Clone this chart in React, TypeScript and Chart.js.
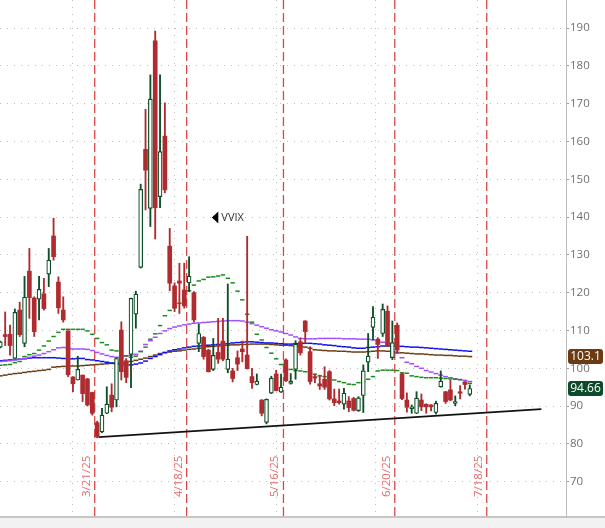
import React, { useEffect, useRef } from "react";
import { Chart, registerables } from "chart.js";
Chart.register(...registerables);

// ---- data (index = trading-day number, 0 = first visible bar) ----
const opens = [105.6,108.9,109.0,102.6,115.4,106.6,125.7,118.6,118.3,119.7,124.9,135.0,122.8,115.4,109.9,97.7,96.9,98.2,97.2,93.6,85.6,83.2,88.1,92.9,91.6,110.1,102.0,103.7,114.3,126.7,157.9,142.3,186.6,145.4,161.4,132.3,121.8,123.1,120.7,122.6,120.0,106.6,108.2,104.8,99.7,104.2,107.2,99.7,99.3,102.8,105.1,103.5,97.8,95.7,91.6,85.7,93.4,98.5,93.7,102.2,96.0,99.7,107.0,112.5,104.4,97.8,95.9,97.1,99.1,91.9,91.35,90.5,91.35,92.0,88.8,92.8,101.6,110.8,107.7,109.2,115.1,102.8,111.4,98.5,91.6,89.3,88.1,91.6,90.5,90.3,88.3,95.1,93.8,94.3,90.7,93.8,96.4,93.1];
const highs = [107.2,114.9,111.4,115.7,117.5,124.3,131.7,118.9,124.3,123.8,131.7,139.7,124.2,118.9,109.9,97.8,103.2,98.2,97.3,93.7,86.0,89.4,95.1,95.9,102.8,112.3,102.6,118.6,120.4,148.7,168.5,177.6,189.2,177.6,170.2,137.0,122.6,127.8,127.8,129.5,120.3,111.7,108.4,105.0,107.9,113.2,113.2,122.3,100.0,104.6,107.2,134.9,100.0,98.5,91.7,91.9,97.9,99.5,98.5,102.5,98.6,107.3,108.0,112.6,105.7,98.5,98.2,100.4,99.4,94.5,94.5,94.7,92.5,92.3,92.5,100.9,109.2,116.3,108.1,117.0,116.5,112.5,112.0,98.8,93.5,90.3,93.8,93.2,90.6,90.4,91.3,99.3,93.9,96.9,92.7,95.4,96.5,95.6];
const lows = [105.4,106.0,103.5,102.6,108.4,105.7,113.2,108.4,112.8,115.4,121.6,128.6,114.5,112.2,97.8,93.8,96.9,91.2,90.0,87.6,81.6,83.0,88.0,88.5,89.8,96.9,96.2,94.9,110.6,126.5,141.9,137.5,134.2,142.5,146.4,120.5,115.0,114.5,115.9,120.3,112.2,104.4,102.4,99.0,99.4,101.3,102.0,98.8,96.4,99.4,101.7,99.8,94.7,95.6,87.4,85.3,93.3,94.0,93.6,96.5,95.8,97.1,103.5,106.6,95.8,96.2,94.4,94.4,91.6,90.1,90.5,89.2,88.5,88.7,88.6,88.3,99.1,107.5,102.6,108.4,105.7,102.3,104.0,91.7,88.4,88.1,88.0,88.8,88.1,88.7,87.9,95.0,90.7,91.4,90.1,91.9,94.5,92.7];
const closes = [107.0,108.4,106.0,114.8,108.9,118.8,118.7,109.7,120.9,115.8,128.6,129.5,116.0,112.8,98.3,95.9,99.7,93.3,90.3,88.1,81.9,87.6,90.5,89.7,102.6,99.1,97.6,118.5,119.6,147.3,152.4,171.2,142.5,157.3,147.2,122.5,115.9,122.5,116.5,124.4,112.8,109.2,103.1,99.1,103.4,102.4,102.4,102.4,97.3,101.1,104.4,99.9,96.2,96.6,88.1,91.8,97.4,94.1,95.0,96.7,96.6,106.4,104.1,109.7,96.5,97.4,95.3,95.0,91.9,90.9,90.9,93.4,89.6,88.9,92.2,99.3,103.2,113.5,106.3,115.6,105.9,106.8,104.8,92.0,89.7,89.8,92.1,89.8,89.8,89.8,90.7,96.6,91.2,91.6,91.2,93.4,95.7,94.66];

const maGreen = [100.8,100.9,101.0,101.5,101.8,103.1,103.6,103.9,104.8,105.9,107.2,108.4,109.5,110.3,110.3,110.3,110.3,110.3,109.9,109.0,107.9,106.8,106.2,104.8,104.6,103.5,103.3,102.9,103.2,104.4,105.6,107.7,109.1,111.3,113.9,115.3,116.1,117.2,118.5,120.5,122.0,123.1,123.5,124.1,124.2,124.4,124.7,123.8,122.6,120.4,118.1,114.3,112.2,109.0,107.5,105.5,104.0,102.5,101.0,100.0,99.7,99.4,99.3,99.1,98.8,98.4,98.0,97.8,97.4,96.9,96.5,96.2,95.8,95.7,96.2,96.5,97.1,97.8,99.3,99.5,99.5,99.5,99.4,98.8,98.7,98.0,97.8,97.6,97.5,97.5,97.5,97.4,97.3,97.2,97.1,97.0,96.2,96.0];
const maPurple = [101.8,101.9,102.0,102.2,102.4,102.6,102.9,103.2,103.5,103.9,104.4,104.9,105.4,105.5,105.3,105.1,105.1,105.1,105.0,104.7,104.2,103.8,103.4,103.1,102.9,103.0,103.2,103.4,103.7,104.5,106.3,107.3,108.2,109.2,109.9,110.5,110.9,111.2,111.5,111.7,111.9,112.0,112.1,112.2,112.3,112.4,112.5,112.6,112.6,112.6,112.5,112.2,111.8,111.4,111.0,110.6,110.2,109.9,109.6,109.2,108.8,108.3,107.9,107.8,107.8,107.8,107.9,107.9,107.9,107.9,107.9,107.8,107.8,107.8,107.7,107.7,107.7,107.5,107.2,106.9,106.5,105.0,104.0,102.8,101.6,101.2,100.5,100.0,99.4,99.0,98.6,98.2,97.8,97.5,97.2,97.0,96.8,96.5];
const maBlue = [102.0,102.1,102.2,102.3,102.4,102.5,102.7,102.8,102.8,102.8,102.8,102.8,102.7,102.6,102.5,102.5,102.6,102.6,102.3,102.2,102.0,101.8,101.6,101.4,101.2,101.0,100.9,100.9,101.1,101.4,101.9,102.6,103.1,103.6,104.2,104.6,104.9,105.1,105.4,105.6,105.8,105.9,106.0,106.1,106.2,106.3,106.4,106.5,106.7,106.8,106.9,107.0,107.0,106.9,106.8,106.7,106.7,106.6,106.5,106.4,106.4,106.5,106.6,106.6,106.6,106.5,106.4,106.2,106.1,106.0,105.8,105.7,105.6,105.4,105.3,105.3,105.5,105.6,105.7,105.9,105.9,105.9,105.8,105.8,105.7,105.6,105.6,105.5,105.4,105.3,105.2,105.1,105.0,104.9,104.8,104.7,104.6,104.5];
const maBrown = [98.0,98.2,98.4,98.6,98.7,98.9,99.1,99.2,99.4,99.5,99.7,100.3,100.4,100.5,100.5,100.6,100.6,100.7,100.8,100.9,101.0,101.1,101.2,101.3,101.3,101.4,101.6,101.8,102.1,102.4,102.7,103.1,103.5,103.9,104.1,104.3,104.5,104.6,104.8,105.0,105.1,105.3,105.5,105.7,105.8,105.9,106.0,106.1,106.2,106.2,106.3,106.3,106.4,106.4,106.4,106.4,106.3,106.2,106.1,106.1,106.0,105.9,105.8,105.6,105.3,104.9,104.8,104.7,104.6,104.6,104.5,104.5,104.4,104.3,104.3,104.3,104.4,104.5,104.6,104.6,104.5,104.4,104.2,104.1,104.0,103.9,103.8,103.8,103.7,103.6,103.5,103.5,103.4,103.4,103.3,103.2,103.2,103.1];

const yTicks = [70, 80, 90, 100, 110, 120, 130, 140, 150, 160, 170, 180, 190];
const monthStartIdx = [5, 26, 47, 68, 88, 110];
const opexIdx = [19, 38, 58, 81, 100];
const opexLabels = ["3/21/25", "4/18/25", "5/16/25", "6/20/25", "7/18/25"];
const trendIdx = [20.3, 111.8];
const trendVal = [81.8, 89.2];
const seriesName = "VVIX";

const X_MIN = -0.07;
const X_MAX = 116.88;
const Y_MIN = 60.93;
const Y_MAX = 197.41;

const RED = "#b02b2f";
const GREEN = "#0c4f26";
const FONT = "'Open Sans', 'Noto Sans', sans-serif";

function roundRect(ctx: CanvasRenderingContext2D, x: number, y: number, w: number, h: number, r: number) {
  ctx.beginPath();
  ctx.moveTo(x + r, y);
  ctx.lineTo(x + w - r, y);
  ctx.quadraticCurveTo(x + w, y, x + w, y + r);
  ctx.lineTo(x + w, y + h - r);
  ctx.quadraticCurveTo(x + w, y + h, x + w - r, y + h);
  ctx.lineTo(x + r, y + h);
  ctx.quadraticCurveTo(x, y + h, x, y + h - r);
  ctx.lineTo(x, y + r);
  ctx.quadraticCurveTo(x, y, x + r, y);
  ctx.closePath();
}

const overlayPlugin = {
  id: "overlay",
  beforeDatasetsDraw(chart: any) {
    const { ctx, chartArea, scales } = chart;
    const x = scales.x;
    ctx.save();
    ctx.strokeStyle = "rgba(212,52,52,0.9)";
    ctx.lineWidth = 1.3;
    ctx.setLineDash([9, 4]);
    opexIdx.forEach((d) => {
      const px = x.getPixelForValue(d + 0.5);
      ctx.beginPath();
      ctx.moveTo(px, chartArea.top);
      ctx.lineTo(px, chartArea.bottom);
      ctx.stroke();
    });
    ctx.restore();
  },
  afterDraw(chart: any) {
    const { ctx, chartArea, scales } = chart;
    const x = scales.x;
    const y = scales.y;
    ctx.save();
    // opex date labels (rotated)
    ctx.fillStyle = "#e46a6a";
    ctx.font = `11.5px ${FONT}`;
    opexIdx.forEach((d, i) => {
      const px = x.getPixelForValue(d + 0.5);
      ctx.save();
      ctx.translate(px - 2.5, 497);
      ctx.rotate(-Math.PI / 2);
      ctx.textAlign = "left";
      ctx.textBaseline = "bottom";
      ctx.fillText(opexLabels[i], 0, 0);
      ctx.restore();
    });

    // series name marker
    const mx = x.getPixelForValue(43.7);
    const my = y.getPixelForValue(139.9);
    ctx.fillStyle = "#000";
    ctx.beginPath();
    ctx.moveTo(mx, my);
    ctx.lineTo(mx + 6.5, my - 6);
    ctx.lineTo(mx + 6.5, my + 6);
    ctx.closePath();
    ctx.fill();
    ctx.fillStyle = "#333";
    ctx.font = `11px ${FONT}`;
    ctx.textAlign = "left";
    ctx.textBaseline = "middle";
    ctx.fillText(seriesName, mx + 9.5, my + 0.5);

    // value badges on the right axis
    const badges = [
      { v: maBrown[maBrown.length - 1], t: maBrown[maBrown.length - 1].toFixed(1), c: "#6b3a10" },
      { v: closes[closes.length - 1], t: closes[closes.length - 1].toFixed(2), c: "#0b4a2b" },
    ];
    badges.forEach((b) => {
      const by = y.getPixelForValue(b.v);
      roundRect(ctx, chartArea.right + 2, by - 7.5, 35, 15, 3);
      ctx.fillStyle = b.c;
      ctx.fill();
      ctx.fillStyle = "#ffffff";
      ctx.font = `12px ${FONT}`;
      ctx.textAlign = "center";
      ctx.textBaseline = "middle";
      ctx.fillText(b.t, chartArea.right + 19.5, by + 0.5);
    });

    // bottom strip
    const w = chart.width;
    ctx.fillStyle = "#f2f2f2";
    ctx.fillRect(0, chartArea.bottom + 1, w, chart.height - chartArea.bottom);
    ctx.strokeStyle = "#c6c6c6";
    ctx.lineWidth = 2;
    ctx.beginPath();
    ctx.moveTo(0, chartArea.bottom + 1);
    ctx.lineTo(w, chartArea.bottom + 1);
    ctx.stroke();
    ctx.restore();
  },
};

export default function App() {
  const ref = useRef<HTMLCanvasElement | null>(null);
  useEffect(() => {
    if (!ref.current) return;
    const idx = opens.map((_, i) => i);
    const up = idx.filter((i) => closes[i] >= opens[i]);
    const down = idx.filter((i) => closes[i] < opens[i]);
    const maSet = (data: number[], color: string, r: number, w: number, order: number) => ({
      type: "line" as const,
      data: data.map((v, i) => ({ x: i, y: v })),
      showLine: false,
      pointStyle: "line",
      pointRadius: r,
      pointHoverRadius: r,
      pointBorderWidth: w,
      pointBorderColor: color,
      pointBackgroundColor: color,
      order,
    });
    const chart = new Chart(ref.current, {
      type: "bar",
      data: {
        datasets: [
          {
            type: "bar",
            data: down.map((i) => ({ x: i, y: [closes[i], opens[i]] })),
            backgroundColor: RED,
            borderWidth: 0,
            barThickness: 4,
            minBarLength: 1,
            grouped: false,
            order: 1,
          },
          {
            type: "bar",
            data: up.map((i) => ({ x: i, y: [opens[i], closes[i]] })),
            backgroundColor: "#ffffff",
            borderColor: GREEN,
            borderWidth: 1.2,
            borderSkipped: false,
            barThickness: 4,
            minBarLength: 1,
            grouped: false,
            order: 1,
          },
          {
            type: "bar",
            data: down.map((i) => ({ x: i, y: [lows[i], highs[i]] })),
            backgroundColor: RED,
            borderWidth: 0,
            barThickness: 1.2,
            grouped: false,
            order: 2,
          },
          {
            type: "bar",
            data: up.map((i) => ({ x: i, y: [lows[i], highs[i]] })),
            backgroundColor: GREEN,
            borderWidth: 0,
            barThickness: 1.2,
            grouped: false,
            order: 2,
          },
          {
            type: "line",
            data: trendIdx.map((v, i) => ({ x: v, y: trendVal[i] })),
            borderColor: "#111111",
            borderWidth: 1.6,
            pointRadius: 0,
            order: 3,
          },
          maSet(maGreen, "#1d8a1d", 2.2, 1.5, 4),
          maSet(maPurple, "#a24cff", 2.45, 1.5, 4),
          maSet(maBlue, "#0f0fe8", 2.45, 1.5, 4),
          maSet(maBrown, "#6b3a10", 2.45, 1.5, 4),
        ] as any,
      },
      plugins: [overlayPlugin],
      options: {
        animation: false,
        responsive: false,
        devicePixelRatio: 1,
        layout: { padding: 0, autoPadding: false },
        plugins: { legend: { display: false }, tooltip: { enabled: false } },
        events: [],
        scales: {
          x: {
            type: "linear",
            min: X_MIN,
            max: X_MAX,
            offset: false,
            afterBuildTicks: (s: any) => {
              s.ticks = monthStartIdx.map((v) => ({ value: v - 0.5 }));
            },
            afterFit: (s: any) => {
              s.height = 12;
              s.paddingLeft = 0;
              s.paddingRight = 0;
            },
            ticks: { display: false },
            grid: { color: "#bdbdbd", lineWidth: 1, drawTicks: false },
            border: { display: false, dash: [1, 6] },
          },
          y: {
            type: "linear",
            position: "right",
            min: Y_MIN,
            max: Y_MAX,
            afterBuildTicks: (s: any) => {
              s.ticks = yTicks.map((v) => ({ value: v }));
            },
            afterFit: (s: any) => {
              s.width = 39;
              s.paddingTop = 0;
              s.paddingBottom = 0;
            },
            ticks: {
              color: "#707070",
              font: { family: FONT, size: 11.5 },
              padding: 1,
            },
            grid: { color: "#bdbdbd", lineWidth: 1, tickLength: 3, tickColor: "#9a9a9a" },
            border: { display: true, color: "#bcbcbc", width: 1, dash: [1, 6] },
          },
        },
      } as any,
    });
    return () => chart.destroy();
  }, []);
  return (
    <div style={{ position: "absolute", left: 0, top: 0, width: 605, height: 528, background: "#ffffff" }}>
      <canvas ref={ref} width={605} height={528} style={{ display: "block", width: 605, height: 528 }} />
    </div>
  );
}
